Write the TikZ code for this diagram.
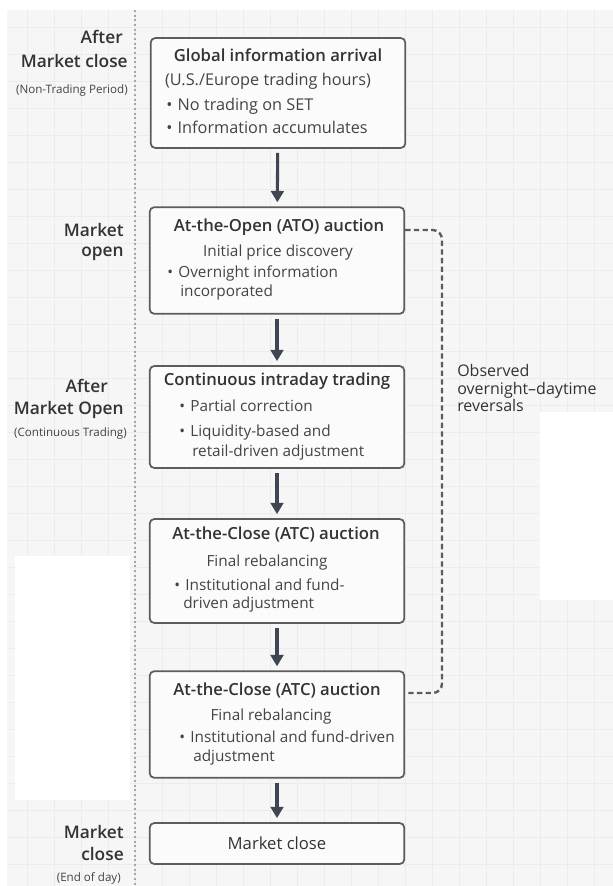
\documentclass[tikz,border=0pt]{standalone}
\usepackage{fontspec}
\setmainfont{Open Sans}
\IfFontExistsTF{Open Sans Semibold}
  {\newfontfamily\semifont{Open Sans Semibold}}
  {\newfontfamily\semifont{Open Sans}}
\usepackage{xcolor}
\usetikzlibrary{arrows.meta,positioning}

\definecolor{pagebg}{HTML}{F6F6F6}
\definecolor{gridcol}{HTML}{ECECEC}
\definecolor{boxline}{HTML}{5C5C5C}
\definecolor{boxfill}{HTML}{FBFBFB}
\definecolor{arrowcol}{HTML}{3D4652}
\definecolor{textdark}{HTML}{333333}
\definecolor{textbody}{HTML}{444444}

\newcommand{\itm}{\textbullet\hspace{4pt}}

\begin{document}
\begin{tikzpicture}[
  x=0.75pt, y=-0.75pt,
  stagebox/.style={
    draw=boxline, line width=1.3pt, rounded corners=3.5pt,
    fill=boxfill, minimum width=191pt, inner sep=0pt
  },
  boxtitle/.style={
    font=\semifont\fontsize{12.5}{15}\selectfont, text=textdark,
    text height=0.75em, text depth=0.25em, inner sep=0pt
  },
  boxtext/.style={
    font=\fontsize{11.5}{14}\selectfont, text=textbody,
    text height=0.75em, text depth=0.25em, inner sep=0pt
  },
  boxtextbig/.style={
    boxtext, font=\fontsize{12.2}{14}\selectfont
  },
  phase/.style={
    font=\semifont\fontsize{13}{16}\selectfont, text=textdark,
    text height=0.75em, text depth=0.25em, inner sep=0pt, anchor=east
  },
  phasenote/.style={
    font=\fontsize{8.7}{10}\selectfont, text=textbody,
    text height=0.75em, text depth=0.25em, inner sep=0pt, anchor=east
  },
  flowarr/.style={
    -{Triangle[length=8.5pt, width=9.5pt]}, line width=2.3pt, draw=arrowcol,
    shorten <=3pt, shorten >=3pt
  },
  reversal/.style={
    draw=boxline, line width=1.8pt, dash pattern=on 4pt off 2.5pt,
    rounded corners=7pt
  },
  revlabel/.style={
    font=\fontsize{12}{12.8}\selectfont, text=textdark, align=left,
    inner sep=0pt, anchor=west
  },
]

\useasboundingbox (0,0) rectangle (613,886);

%% -- background and time axis -------------------------------------------------
\fill[white] (0,0) rectangle (613,886);
\fill[pagebg] (7,10) rectangle (613,886);
\draw[gridcol, line width=0.6pt, step=20.25pt] (7,10) grid (613,886);
\fill[white] (15,556) rectangle (130,800);
\fill[white] (540,412) rectangle (613,600);
\draw[gray!70, line width=0.9pt, dash pattern=on 1.5pt off 2pt] (135,10) -- (135,886);

%% -- stage boxes ---------------------------------------------------------------
\node[stagebox, minimum height=82.5pt] (arrival) at (278,93)    {};
\node[stagebox, minimum height=80pt]   (ato)     at (277,260.5) {};
\node[stagebox, minimum height=76.5pt] (intra)   at (277,417)   {};
\node[stagebox, minimum height=78pt]   (atc)     at (277,571)   {};
\node[stagebox, minimum height=80pt]   (atclast) at (277,724.5) {};
\node[stagebox, minimum height=30.75pt, font=\fontsize{12.5}{15}\selectfont,
      text=textdark] (close) at (277,843.5) {Market close};

%% -- box texts -----------------------------------------------------------------
\node[boxtitle]   at (278,58) {Global information arrival};
\node[boxtextbig] at (268,82) {(U.S./Europe trading hours)};
\node[boxtextbig, anchor=west] at (166,107) {\itm No trading on SET};
\node[boxtextbig, anchor=west] at (166,130) {\itm Information accumulates};

\node[boxtitle] at (279,228) {At-the-Open (ATO) auction};
\node[boxtext]  at (278,253) {Initial price discovery};
\node[boxtext, anchor=west] at (167,274) {\itm Overnight information};
\node[boxtext, anchor=west] at (180,293) {incorporated};

\node[boxtitle] at (277,382) {Continuous intraday trading};
\node[boxtext, anchor=west] at (179,408) {\itm Partial correction};
\node[boxtext, anchor=west] at (179,433) {\itm Liquidity-based and};
\node[boxtext, anchor=west] at (192,453) {retail-driven adjustment};

\node[boxtitle] at (276,536) {At-the-Close (ATC) auction};
\node[boxtext]  at (267,563) {Final rebalancing};
\node[boxtext, anchor=west] at (174,587) {\itm Institutional and fund-};
\node[boxtext, anchor=west] at (183,605) {driven adjustment};

\node[boxtitle] at (277,692) {At-the-Close (ATC) auction};
\node[boxtext]  at (271,717) {Final rebalancing};
\node[boxtext, anchor=west] at (179,739) {\itm Institutional and fund-driven};
\node[boxtext, anchor=west] at (193,758) {adjustment};

%% -- phase labels --------------------------------------------------------------
\node[phase]     at (123,40) {After};
\node[phase]     at (128,64) {Market close};
\node[phasenote] at (128,90) {(Non-Trading Period)};

\node[phase] at (124,233) {Market};
\node[phase] at (124,253) {open};

\node[phase]     at (108,389) {After};
\node[phase]     at (124,411) {Market Open};
\node[phasenote] at (127,433) {(Continuous Trading)};

\node[phase]     at (124,835) {Market};
\node[phase]     at (124,857) {close};
\node[phasenote] at (121,878) {(End of day)};

%% -- flow arrows ---------------------------------------------------------------
\draw[flowarr] (arrival) -- (ato);
\draw[flowarr] (ato)     -- (intra);
\draw[flowarr] (intra)   -- (atc);
\draw[flowarr] (atc)     -- (atclast);
\draw[flowarr] (atclast) -- (close);

%% -- overnight-daytime reversal bracket ---------------------------------------
\coordinate (revtop) at (442,230);
\coordinate (revbot) at (442,693);
\draw[reversal] (ato.east |- revtop) -- (revtop) -- (revbot) -- (atclast.east |- revbot);
\node[revlabel] (revtext) at (457,388) {Observed\\overnight–daytime\\reversals};

\end{tikzpicture}
\end{document}
